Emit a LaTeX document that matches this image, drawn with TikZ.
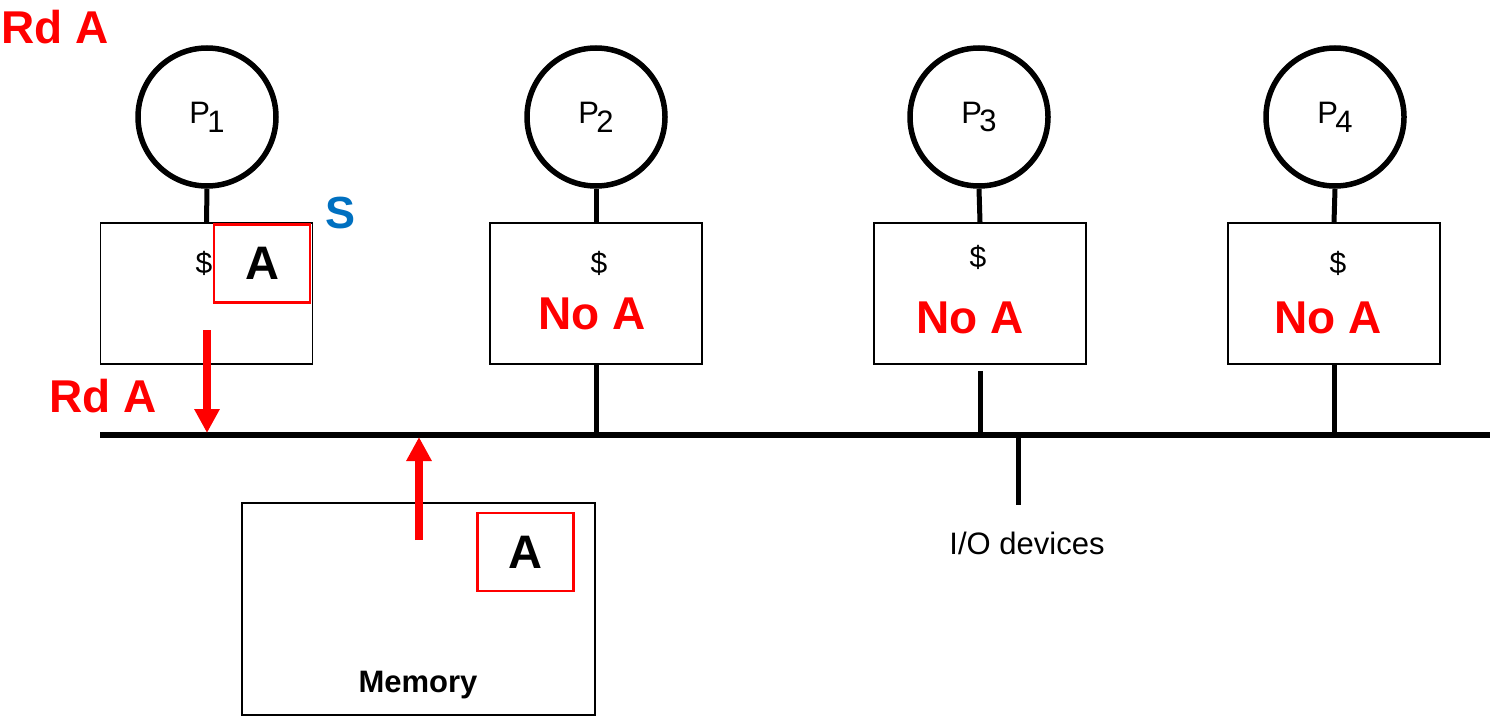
\documentclass[tikz,border=0pt]{standalone}
\usepackage{fontspec}
\setmainfont{Liberation Sans}
\usetikzlibrary{arrows.meta}
\definecolor{myred}{RGB}{255,0,0}
\definecolor{myblue}{RGB}{0,112,192}
\newcommand{\fs}[1]{\fontsize{#1}{#1}\selectfont}
\newcommand{\plab}[1]{P\kern-0.08em\raisebox{-0.28em}{#1}}
\begin{document}
\begin{tikzpicture}[x=1pt,y=-1pt,
  proc/.style={circle,draw,line width=5.5pt,minimum size=138pt,inner sep=0pt,font=\fs{31}},
  cachebox/.style={draw,line width=1.5pt,minimum width=212pt,minimum height=141pt,inner sep=0pt},
  redbox/.style={draw=myred,line width=2.8pt,minimum width=96pt,minimum height=78pt,inner sep=0pt,font=\fs{47}\bfseries},
  wire/.style={line width=5pt},
  bus/.style={line width=6pt},
  redlbl/.style={text=myred,font=\fs{46}\bfseries,inner sep=0pt},
  dollar/.style={font=\fs{30},inner sep=0pt},
  redarrow/.style={draw=myred,line width=7.5pt,-{Triangle[width=24pt,length=24pt]}}
]
\useasboundingbox (0,0) rectangle (1490,717);

% processors
\node[proc] (p1) at (207,117) {\plab{1}};
\node[proc] (p2) at (596,117) {\plab{2}};
\node[proc] (p3) at (979,117) {\plab{3}};
\node[proc] (p4) at (1335,117) {\plab{4}};

% caches
\node[cachebox] (c1) at (206.5,293.5) {};
\node[cachebox] (c2) at (596,293.5) {};
\node[cachebox] (c3) at (980,293.5) {};
\node[cachebox] (c4) at (1334,293.5) {};

\node[dollar] (d1) at (204,263) {\$};
\node[dollar] (d2) at (599,263) {\$};
\node[dollar] (d3) at (978,257) {\$};
\node[dollar] (d4) at (1338,263) {\$};

\node[redbox] (a1) at (262,263.5) {A};
\node[text=myblue,font=\fs{45}\bfseries,inner sep=0pt] (s1) at (341,213) {S};

\node[redlbl] (n2) at (592,314) {No A};
\node[redlbl] (n3) at (970,318) {No A};
\node[redlbl] (n4) at (1328,318) {No A};

% labels
\node[redlbl] (rd1) at (55,27) {Rd A};
\node[redlbl] (rd2) at (103,396) {Rd A};

% bus
\coordinate (busL) at (100,435);
\coordinate (busR) at (1490,435);
\draw[bus] (busL) -- (busR);

% processor to cache
\draw[wire] (p1.south) -- (c1.north);
\draw[wire] (p2.south) -- (c2.north);
\draw[wire] (p3.south) -- (c3.north);
\draw[wire] (p4.south) -- (c4.north);

% cache to bus
\draw[wire] (c2.south) -- (c2.south |- busL);
\draw[wire] ([yshift=-6pt]c3.south) -- (c3.south |- busL);
\draw[wire] (c4.south) -- (c4.south |- busL);

% I/O
\coordinate (io) at (1018,505);
\draw[wire] (io |- busL) -- (io);
\node[font=\fs{31},inner sep=0pt] (iolbl) at (1027,543) {I/O devices};

% memory
\node[draw,line width=1.5pt,minimum width=353pt,minimum height=212pt,inner sep=0pt] (mem) at (418.5,609) {};
\node[font=\fs{31}\bfseries,inner sep=0pt] (memlbl) at (418,685) {Memory};
\node[redbox] (am) at (525.5,552) {A};

% red arrows
\coordinate (arrS) at (207,330);
\coordinate (arrM) at (419,540);
\draw[redarrow] (arrS) -- ([yshift=2pt]arrS |- busL);
\draw[redarrow] (arrM) -- ([yshift=-2pt]arrM |- busL);
\end{tikzpicture}
\end{document}
